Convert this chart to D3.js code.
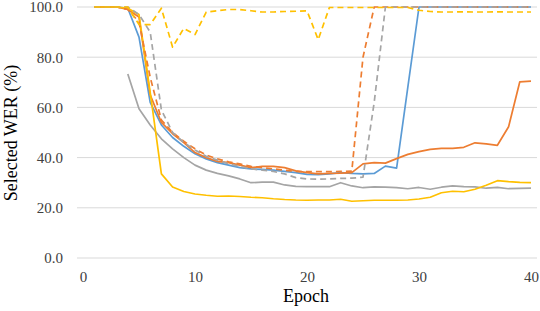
<!DOCTYPE html>
<html><head><meta charset="utf-8">
<script src="https://cdn.jsdelivr.net/npm/d3@7"></script>
<style>html,body{margin:0;padding:0;background:#fff;}svg{display:block;}</style>
</head><body><svg id="c" width="540" height="311"></svg>
<script>
const epochs = d3.range(1, 41);
const yTicks = [0, 20, 40, 60, 80, 100];
const xTicks = [0, 10, 20, 30, 40];

const blueSolid = [100,100,100,99.5,88,62,53,48,44.5,41.5,39.5,38,37,36,35.5,35.3,35,34.5,34,33.3,33.2,33.5,34,33.7,33.5,33.7,36.6,35.8,68,100,100,100,100,100,100,100,100,100,100,100];
const orangeSolid = [100,100,100,99,96,65,54,49.5,46,42,40,38.5,38,37,36,36.5,36.5,36,34.7,34,33.5,33.7,33.8,34,37.5,38,37.8,39.6,41.3,42.4,43.3,43.7,43.7,44.1,45.9,45.5,44.9,52.3,70.2,70.5];
const graySolid = [null,null,null,73.3,59.5,53,47.5,43.5,40,37,35,33.7,32.7,31.5,30,30.2,30.2,29.1,28.5,28.4,28.4,28.4,30,28.7,28,28.3,28.2,28,27.6,28.1,27.4,28.2,28.7,28.4,28.3,27.8,28.1,27.6,27.7,27.8];
const yellowSolid = [100,100,100,99.5,97,66,33.5,28.3,26.5,25.5,25,24.6,24.7,24.5,24.2,24,23.6,23.3,23.1,23,23.1,23.1,23.4,22.6,22.8,23,23,23,23.1,23.5,24.2,26,26.6,26.4,27.4,29,30.8,30.4,30.1,30];
const orangeDashed = [100,100,100,99,94,72,55,50,46.5,43.5,41,39.5,38.3,37.5,36.5,36,35.5,35,34.5,34.4,34.4,34.4,34.5,34.6,80,100,100,100,100,100,100,100,100,100,100,100,100,100,100,100];
const grayDashed = [100,100,100,100,97,90,59,50,46,43,40.5,39,37.5,36.5,35.5,35,34.5,33.5,32,31.5,31.4,31.5,31.7,31.8,32.2,62,100,100,100,100,100,100,100,100,100,100,100,100,100,100];
const yellowDashed = [100,100,100,100,93,93,99.5,84,91.5,89,98,98.5,99,99,98.5,98,98,98.2,98.3,98.5,87,99.8,99.8,99.8,99.8,99.8,99.8,99.8,99.8,98.7,98.2,98,98,98.1,98,98,98.1,98,98,98];

const series = [
  {name: "blue", values: blueSolid, color: "#5b9bd5", dash: null},
  {name: "orange", values: orangeSolid, color: "#ed7d31", dash: null},
  {name: "gray", values: graySolid, color: "#a5a5a5", dash: null},
  {name: "yellow", values: yellowSolid, color: "#ffc000", dash: null},
  {name: "orangeD", values: orangeDashed, color: "#ed7d31", dash: "6,4"},
  {name: "grayD", values: grayDashed, color: "#a5a5a5", dash: "6,4"},
  {name: "yellowD", values: yellowDashed, color: "#ffc000", dash: "6,4"}
];

const svg = d3.select("#c");
const x = d3.scaleLinear().domain([0, 40]).range([83, 531]);
const y = d3.scaleLinear().domain([0, 100]).range([258, 7]);
const serif = "Liberation Serif";

svg.append("g").selectAll("line").data(yTicks).join("line")
  .attr("x1", 77).attr("x2", 537)
  .attr("y1", d => y(d)).attr("y2", d => y(d))
  .attr("stroke", "#d9d9d9").attr("stroke-width", 1);

const yAxis = svg.append("g").attr("transform", "translate(77,0)")
  .call(d3.axisLeft(y).tickValues(yTicks).tickFormat(d3.format(".1f")).tickSize(0).tickPadding(14));
const xAxis = svg.append("g").attr("transform", "translate(0,258)")
  .call(d3.axisBottom(x).tickValues(xTicks).tickFormat(d3.format("d")).tickSize(0).tickPadding(13));
[yAxis, xAxis].forEach(a => {
  a.attr("font-family", serif).attr("font-size", 15);
  a.select(".domain").remove();
  a.selectAll("text").attr("fill", "#404040");
});

const line = d3.line()
  .defined(d => d.v != null)
  .x(d => x(d.e)).y(d => y(d.v));

svg.append("g").selectAll("path").data(series).join("path")
  .attr("d", s => line(epochs.map((e, i) => ({e, v: s.values[i]}))))
  .attr("fill", "none")
  .attr("stroke", s => s.color)
  .attr("stroke-width", 1.7)
  .attr("stroke-dasharray", s => s.dash)
  .attr("stroke-linejoin", "round");

svg.append("text").attr("x", 306).attr("y", 302).attr("text-anchor", "middle")
  .attr("font-family", serif).attr("font-size", 18)
  .attr("fill", "#000").text("Epoch");
svg.append("text").attr("transform", "translate(17,133) rotate(-90)").attr("text-anchor", "middle")
  .attr("font-family", serif).attr("font-size", 18)
  .attr("fill", "#000").text("Selected WER (%)");
</script></body></html>
